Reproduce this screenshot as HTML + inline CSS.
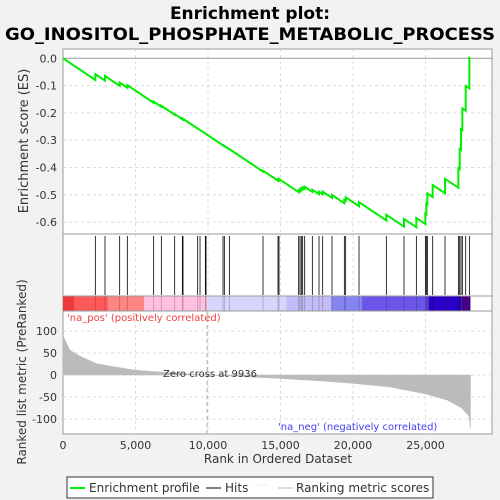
<!DOCTYPE html>
<html><head><meta charset="utf-8"><style>
body{margin:0;background:#f2f2f2;}
svg{display:block;font-family:"DejaVu Sans","Liberation Sans",sans-serif;}
</style></head><body>
<svg id="chart" width="500" height="500" viewBox="0 0 500 500">
<rect x="0" y="0" width="500" height="500" fill="#f2f2f2"/>
<text x="250" y="19" text-anchor="middle" font-weight="bold" font-size="17">Enrichment plot:</text>
<text x="250" y="40" text-anchor="middle" font-weight="bold" font-size="17" textLength="490" lengthAdjust="spacingAndGlyphs">GO_INOSITOL_PHOSPHATE_METABOLIC_PROCESS</text>
<rect x="63" y="49" width="429" height="385" fill="#fff" stroke="#999" stroke-width="1"/>
<g id="grid"></g>
<g id="colorbar"></g>
<g id="metric"></g>
<g id="hits"></g>
<g id="es"></g>
<g id="axes"></g>
<line x1="63" y1="234" x2="492" y2="234" stroke="#999"/>
<line x1="63" y1="296" x2="492" y2="296" stroke="#999"/>
<line x1="63" y1="311" x2="492" y2="311" stroke="#999"/>
<text x="67" y="321" font-size="10" fill="#f04040">'na_pos' (positively correlated)</text>
<text x="278" y="430" font-size="10" fill="#4040f0">'na_neg' (negatively correlated)</text>
<text x="163" y="377" font-size="10" fill="#333">Zero cross at 9936</text>
<text x="28" y="141" font-size="13" fill="#333" text-anchor="middle" transform="rotate(-90 28 141)">Enrichment score (ES)</text>
<text x="26" y="372" font-size="12" fill="#333" text-anchor="middle" transform="rotate(-90 26 372)">Ranked list metric (PreRanked)</text>
<text x="278" y="463" font-size="12" fill="#333" text-anchor="middle">Rank in Ordered Dataset</text>
<g>
<rect x="67" y="477" width="366" height="21" fill="#fff" stroke="#333"/>
<line x1="70" y1="488" x2="85" y2="488" stroke="#00ee00" stroke-width="2"/>
<text x="89" y="492" font-size="12" fill="#333">Enrichment profile</text>
<line x1="206" y1="488" x2="221" y2="488" stroke="#000"/>
<text x="225" y="492" font-size="12" fill="#333">Hits</text>
<line x1="254" y1="485" x2="268" y2="485" stroke="#eee"/>
<line x1="278" y1="488" x2="293" y2="488" stroke="#bbb"/>
<text x="296" y="492" font-size="12" fill="#333">Ranking metric scores</text>
</g>
</svg>
<script>
const N = 28100;
const hitRanks = [2230,2897,3908,4437,6253,6782,7702,8231,8277,9288,9449,9817,9863,11035,11127,11472,13794,14828,14897,16253,16345,16437,16529,16667,17196,17656,17909,18552,19403,19495,20415,22300,23518,24369,24990,25059,25128,25496,26346,27266,27358,27450,27542,27772,28025];
const metricRanks = [0,460,1150,2300,3450,5000,7000,9936,12000,15000,18000,20000,22500,25000,26500,27500,28000,28100];
const metricValues = [90,57,43,26,19,11,6,0,-3,-8,-14,-19,-27,-43,-57,-75,-94,-121];
const esTicks = [0,-0.1,-0.2,-0.3,-0.4,-0.5,-0.6];
const esTickLabels = ["0.0","-0.1","-0.2","-0.3","-0.4","-0.5","-0.6"];
const metricTicks = [100,50,0,-50,-100];
const xTicks = [0,5000,10000,15000,20000,25000];
const xTickLabels = ["0","5,000","10,000","15,000","20,000","25,000"];
const zeroCross = 9936;
const colorStops = [0,800,3100,5600,9936,15400,18500,20600,25200,27500,28100];
const colorFills = ["#ee3a3a","#ff5a5a","#ff8585","#ffc0e0","#d6d6fa","#c2bdf8","#8585f2","#6a55e8","#2a00c8","#4a0090"];
const weightExponent = 1.25;

const NS="http://www.w3.org/2000/svg";
const X = r => 63 + r*0.0145;
const YES = v => 58.3 + (-v)*273;
const YM = v => 375 - v*0.44;
function mk(tag, attrs, parent){const e=document.createElementNS(NS,tag);for(const k in attrs)e.setAttribute(k,attrs[k]);document.getElementById(parent).appendChild(e);return e;}
function metricAt(r){for(let i=1;i<metricRanks.length;i++){if(r<=metricRanks[i]){const a=metricRanks[i-1],b=metricRanks[i];return metricValues[i-1]+(metricValues[i]-metricValues[i-1])*(r-a)/(b-a);}}return metricValues[metricValues.length-1];}

xTicks.slice(1).forEach(t=>{
  const g=mk('line',{x1:X(t),x2:X(t),y1:49,y2:434,stroke:'#ddd','stroke-dasharray':'3,3'},'grid');
  
  
});
esTicks.forEach((t,i)=>{
  const g=mk('line',{x1:63,x2:492,y1:YES(t),y2:YES(t),stroke:t===0?'#999':'#ddd','stroke-dasharray':t===0?'':'3,3'},'grid');
  
  
  const l=mk('text',{x:57,y:YES(t)+4,'text-anchor':'end','font-size':11,fill:'#333'},'axes');
  l.textContent=esTickLabels[i];
  
  
});
metricTicks.forEach(t=>{
  const g=mk('line',{x1:63,x2:492,y1:YM(t),y2:YM(t),stroke:'#ddd','stroke-dasharray':'3,3'},'grid');
  
  
  const l=mk('text',{x:57,y:YM(t)+4,'text-anchor':'end','font-size':11,fill:'#333'},'axes');
  l.textContent=String(t);
  
  
});
xTicks.forEach((t,i)=>{
  const l=mk('text',{x:X(t),y:449,'text-anchor':'middle','font-size':11,fill:'#333'},'axes');
  l.textContent=xTickLabels[i];
  
  
});
for(let i=0;i<colorFills.length;i++){
  const r=mk('rect',{x:X(colorStops[i]),y:296,width:X(colorStops[i+1])-X(colorStops[i]),height:15,fill:colorFills[i]},'colorbar');
  
  
}
let d='M'+X(0)+','+YM(0);
metricRanks.forEach((r,i)=>{d+=' L'+X(r)+','+YM(metricValues[i]);});
d+=' L'+X(N)+','+YM(0)+' Z';
const area=mk('path',{d:d,fill:'#bbb',stroke:'#bbb','stroke-width':0.5},'metric');


const zc=mk('line',{x1:X(zeroCross),x2:X(zeroCross),y1:311,y2:434,stroke:'#aaa','stroke-dasharray':'4,3'},'metric');


hitRanks.forEach(r=>{
  const h=mk('line',{x1:X(r),x2:X(r),y1:236,y2:295,stroke:'#000','stroke-width':0.8},'hits');
  
  
  const c=mk('line',{x1:X(r),x2:X(r),y1:296,y2:311,stroke:'rgba(0,0,0,0.25)','stroke-width':0.8},'colorbar');
  
  
});
const weights=hitRanks.map(r=>Math.pow(Math.abs(metricAt(r)),weightExponent));
const sumW=weights.reduce((a,b)=>a+b,0);
const down=1/(N-hitRanks.length);
let pts=[[0,0]];let es=0;let prev=0;
hitRanks.forEach((r,i)=>{
  es-=down*(r-prev);pts.push([r,es]);
  es+=weights[i]/sumW;pts.push([r,es]);prev=r;
});
es-=down*(N-prev);pts.push([N,es]);
const line=mk('polyline',{points:pts.map(p=>X(p[0])+','+YES(p[1])).join(' '),fill:'none',stroke:'#00ee00','stroke-width':2},'es');


</script>
</body></html>
